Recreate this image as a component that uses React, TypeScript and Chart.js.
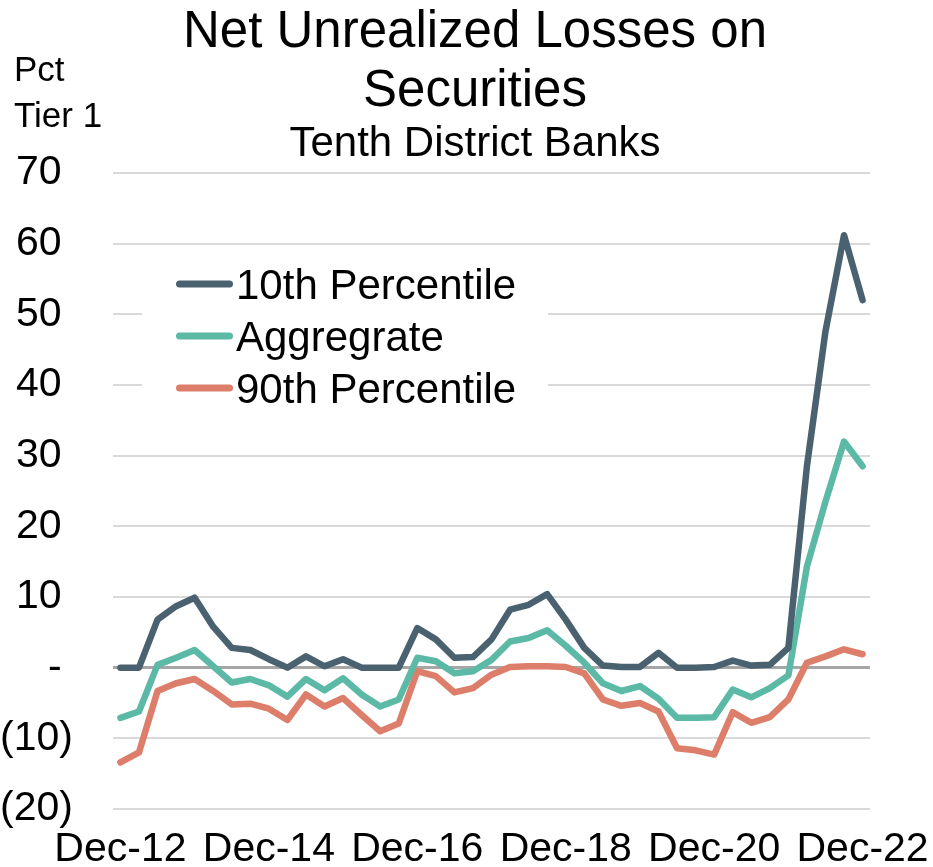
import { useEffect, useRef } from 'react';
import { Chart, registerables } from 'chart.js';

Chart.register(...registerables);

const FONT = '"Liberation Sans", Arial, Helvetica, sans-serif';

// Quarter-end dates, Dec-12 through Dec-22
const quarters = [
  'Dec-12', 'Mar-13', 'Jun-13', 'Sep-13', 'Dec-13',
  'Mar-14', 'Jun-14', 'Sep-14', 'Dec-14',
  'Mar-15', 'Jun-15', 'Sep-15', 'Dec-15',
  'Mar-16', 'Jun-16', 'Sep-16', 'Dec-16',
  'Mar-17', 'Jun-17', 'Sep-17', 'Dec-17',
  'Mar-18', 'Jun-18', 'Sep-18', 'Dec-18',
  'Mar-19', 'Jun-19', 'Sep-19', 'Dec-19',
  'Mar-20', 'Jun-20', 'Sep-20', 'Dec-20',
  'Mar-21', 'Jun-21', 'Sep-21', 'Dec-21',
  'Mar-22', 'Jun-22', 'Sep-22', 'Dec-22',
];

// Net unrealized losses, percent of tier 1 capital
const tenthPercentile = [
  0.0, 0.0, 6.8, 8.7, 9.9, 5.8, 2.8, 2.5, 1.2, 0.0,
  1.6, 0.2, 1.2, 0.0, 0.0, 0.0, 5.6, 4.0, 1.4, 1.5,
  4.0, 8.2, 8.9, 10.4, 6.8, 2.8, 0.3, 0.1, 0.1, 2.1,
  0.0, 0.0, 0.1, 1.0, 0.3, 0.4, 2.8, 28.5, 47.6, 61.2,
  52.0,
];
const aggregate = [
  -7.1, -6.2, 0.4, 1.4, 2.5, 0.2, -2.1, -1.6, -2.5, -4.1,
  -1.6, -3.2, -1.5, -3.8, -5.5, -4.5, 1.4, 0.9, -0.8, -0.5,
  1.1, 3.7, 4.2, 5.3, 3.1, 0.7, -2.2, -3.3, -2.6, -4.4,
  -7.1, -7.1, -7.0, -3.1, -4.2, -2.9, -1.1, 14.3, 23.5, 32.0,
  28.5,
];
const ninetiethPercentile = [
  -13.4, -12.0, -3.3, -2.2, -1.6, -3.3, -5.2, -5.1, -5.8, -7.4,
  -3.8, -5.5, -4.3, -6.7, -9.0, -7.9, -0.5, -1.2, -3.5, -2.9,
  -1.0, 0.1, 0.2, 0.2, 0.1, -0.8, -4.5, -5.4, -5.0, -6.2,
  -11.4, -11.7, -12.3, -6.3, -7.8, -7.0, -4.5, 0.7, 1.6, 2.6,
  1.9,
];

const seriesNames = ['10th Percentile', 'Aggregrate', '90th Percentile'];
const seriesColors = ['#4a6170', '#5bb9a6', '#dc7e6a'];

const xTickLabels = ['Dec-12', 'Dec-14', 'Dec-16', 'Dec-18', 'Dec-20', 'Dec-22'];
const yTicks = [-20, -10, 0, 10, 20, 30, 40, 50, 60, 70];
const yTickLabels = ['(20)', '(10)', '- ', '10 ', '20 ', '30 ', '40 ', '50 ', '60 ', '70 '];

const titleLines = ['Net Unrealized Losses on', 'Securities'];
const subtitleText = 'Tenth District Banks';
const unitLines = ['Pct', 'Tier 1'];

// Title block and unit caption
const headerPlugin = {
  id: 'header',
  afterDraw(chart: any) {
    const ctx = chart.ctx;
    ctx.save();
    ctx.fillStyle = '#000';
    ctx.textBaseline = 'alphabetic';
    ctx.textAlign = 'center';
    ctx.font = `51px ${FONT}`;
    ctx.fillText(titleLines[0], 475, 47);
    ctx.fillText(titleLines[1], 475, 106);
    ctx.font = `42px ${FONT}`;
    ctx.fillText(subtitleText, 475, 156);
    ctx.textAlign = 'left';
    ctx.font = `35px ${FONT}`;
    ctx.fillText(unitLines[0], 14, 81);
    ctx.fillText(unitLines[1], 14, 127);
    ctx.restore();
  },
};

// Legend box placed inside the plot area
const insetLegendPlugin = {
  id: 'insetLegend',
  beforeDatasetsDraw(chart: any) {
    const ctx = chart.ctx;
    ctx.save();
    ctx.fillStyle = '#fff';
    ctx.fillRect(142, 252, 406, 166);
    ctx.font = `42px ${FONT}`;
    ctx.textAlign = 'left';
    ctx.textBaseline = 'alphabetic';
    chart.data.datasets.forEach((ds: any, i: number) => {
      const cy = 284 + i * 52;
      ctx.strokeStyle = ds.borderColor;
      ctx.lineWidth = 7;
      ctx.lineCap = 'round';
      ctx.beginPath();
      ctx.moveTo(179.5, cy);
      ctx.lineTo(229.5, cy);
      ctx.stroke();
      ctx.fillStyle = '#000';
      ctx.fillText(ds.label, 236, cy + 15);
    });
    ctx.restore();
  },
};

const toPoints = (values: number[]) => values.map((v, i) => ({ x: i, y: v }));

export default function App() {
  const canvasRef = useRef<HTMLCanvasElement | null>(null);

  useEffect(() => {
    if (!canvasRef.current) return;
    const seriesValues = [tenthPercentile, aggregate, ninetiethPercentile];
    const chart = new Chart(canvasRef.current, {
      type: 'line',
      data: {
        datasets: seriesValues.map((values, i) => ({
          label: seriesNames[i],
          data: toPoints(values),
          borderColor: seriesColors[i],
          backgroundColor: seriesColors[i],
          borderWidth: 6.5,
          borderJoinStyle: 'round',
          borderCapStyle: 'round',
          pointRadius: 0,
          tension: 0,
          fill: false,
        })),
      },
      options: {
        responsive: false,
        animation: false,
        devicePixelRatio: 1,
        layout: { padding: { top: 173, right: 63, bottom: 0, left: 0 } },
        plugins: {
          legend: { display: false },
          tooltip: { enabled: false },
          title: { display: false },
        },
        scales: {
          x: {
            type: 'linear',
            min: -0.4,
            max: quarters.length - 1 + 0.4,
            grid: { display: false },
            border: { display: false },
            afterBuildTicks: (scale: any) => {
              scale.ticks = xTickLabels.map((l) => ({ value: quarters.indexOf(l) }));
            },
            afterFit: (scale: any) => {
              scale.height = 58;
              scale.paddingLeft = 0;
              scale.paddingRight = 0;
            },
            ticks: {
              autoSkip: false,
              maxRotation: 0,
              minRotation: 0,
              padding: 8,
              color: '#000',
              font: { family: FONT, size: 41 },
              callback: (v: any) => quarters[Number(v)] ?? '',
            },
          },
          y: {
            min: yTicks[0],
            max: yTicks[yTicks.length - 1],
            afterBuildTicks: (scale: any) => {
              scale.ticks = yTicks.map((v) => ({ value: v }));
            },
            afterFit: (scale: any) => {
              scale.width = 113;
              scale.paddingTop = 0;
              scale.paddingBottom = 0;
            },
            grid: {
              drawTicks: false,
              color: (c: any) => (c.tick && c.tick.value === 0 ? '#a6a6a6' : '#d9d9d9'),
              lineWidth: (c: any) => (c.tick && c.tick.value === 0 ? 3 : 2),
            },
            border: { display: false },
            ticks: {
              padding: 40,
              color: '#000',
              font: { family: FONT, size: 41 },
              callback: (v: any) => yTickLabels[yTicks.indexOf(Number(v))] ?? '',
            },
          },
        },
      },
      plugins: [headerPlugin, insetLegendPlugin],
    } as any);
    return () => chart.destroy();
  }, []);

  return (
    <div style={{ position: 'absolute', left: 0, top: 0, width: 933, height: 867, background: '#fff' }}>
      <canvas ref={canvasRef} width={933} height={867} style={{ display: 'block' }} />
    </div>
  );
}
